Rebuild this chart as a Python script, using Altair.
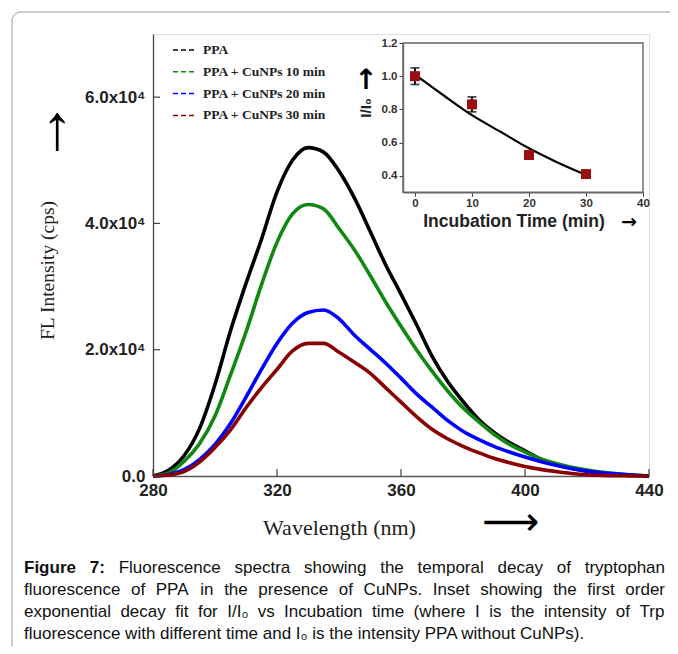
import altair as alt
import pandas as pd

# ---------------- data ----------------
wavelength = list(range(280, 445, 5))
ppa = [0, 900, 3200, 7500, 14500, 23000, 30500, 37500, 45000, 50000, 52000, 51300,
       48300, 44000, 38800, 33500, 28800, 24000, 19000, 15000, 11800, 9000, 6900,
       5300, 4000, 2700, 1800, 1200, 750, 450, 250, 120, 0]
cunps_10 = [0, 500, 2300, 5100, 9500, 16000, 22800, 30300, 37000, 41500, 43000, 42300,
            39200, 35800, 31800, 27600, 23700, 20000, 16600, 13500, 10800, 8600, 6600,
            5000, 3800, 2700, 2000, 1400, 950, 600, 350, 150, 0]
cunps_20 = [0, 250, 1000, 2600, 5000, 8300, 12500, 16900, 21000, 24200, 25900, 26300,
            24900, 22300, 20100, 17900, 15500, 13000, 10900, 8800, 7100, 5800, 4700,
            3800, 3000, 2300, 1700, 1200, 800, 500, 300, 120, 0]
cunps_30 = [0, 150, 700, 2200, 4500, 7300, 10800, 14000, 16900, 19800, 21000, 21000,
            19600, 18000, 16300, 14000, 11700, 9400, 7400, 5900, 4700, 3700, 2800,
            2100, 1500, 1050, 700, 400, 200, 100, 50, 0, 0]
series_names = ["PPA", "PPA + CuNPs 10 min", "PPA + CuNPs 20 min", "PPA + CuNPs 30 min"]
series_colors = ["#000000", "#118811", "#0000ff", "#8b0000"]

x_ticks = [280, 320, 360, 400, 440]
y_ticks = [0, 20000, 40000, 60000]

inset_time = [0, 10, 20, 30]
inset_ratio = [1.0, 0.83, 0.525, 0.41]
inset_err = [0.05, 0.045, 0.025, 0.012]
fit_time = [0, 5, 10, 15, 20, 25, 30]
fit_ratio = [1.01, 0.885, 0.765, 0.665, 0.565, 0.48, 0.405]
inset_x_ticks = [0, 10, 20, 30, 40]
inset_y_ticks = [0.4, 0.6, 0.8, 1.0, 1.2]

caption_bold = "Figure 7:"
caption_justified = [
    "Figure 7: Fluorescence spectra showing the temporal decay of tryptophan",
    "fluorescence of PPA in the presence of CuNPs. Inset showing the first order",
    "exponential decay fit for I/I\u2080 vs Incubation time (where I is the intensity of Trp",
]
caption_last = "fluorescence with different time and I\u2080 is the intensity PPA without CuNPs)."

# ---------------- tables ----------------
rows = []
for name, vals in zip(series_names, [ppa, cunps_10, cunps_20, cunps_30]):
    for w, v in zip(wavelength, vals):
        rows.append({"wl": w, "fl": v, "series": name})
spectra = pd.DataFrame(rows)

inset_df = pd.DataFrame({
    "t": inset_time,
    "r": inset_ratio,
    "lo": [r - e for r, e in zip(inset_ratio, inset_err)],
    "hi": [r + e for r, e in zip(inset_ratio, inset_err)],
})
fit_df = pd.DataFrame({"t": fit_time, "r": fit_ratio})
xt_df = pd.DataFrame({"v": x_ticks})
yt_df = pd.DataFrame({"v": y_ticks})
one = pd.DataFrame({"a": [0]})

W, H = 496, 442
SANS = "Liberation Sans"
SERIF = "Liberation Serif"

# ---------------- main spectra ----------------
xs_main = alt.Scale(domain=[280, 440], nice=False, zero=False)
ys_main = alt.Scale(domain=[0, 70000], nice=False)

x_axis_main = alt.Axis(
    values=x_ticks, format="d", ticks=False, grid=False, labelFlush=False, labelOverlap=False,
    labelFont=SANS, labelFontWeight="bold", labelFontSize=17, labelColor="#222",
    labelPadding=6, domainColor="#555", domainWidth=1.3,
    title="Wavelength (nm)", titleFont=SERIF, titleFontWeight="normal", titleFontSize=22,
    titleColor="#222", titleX=186, titleY=51, titleBaseline="middle")
y_axis_main = alt.Axis(
    values=y_ticks, ticks=False, grid=False, labelFlush=False, labelOverlap=False,
    labelExpr="datum.value == 0 ? '0.0' : format(datum.value / 10000, '.1f') + 'x10\u2074'",
    labelFont=SANS, labelFontWeight="bold", labelFontSize=17, labelColor="#222",
    labelPadding=8, domainColor="#444", domainWidth=1.3,
    title="FL Intensity (cps)", titleFont=SERIF, titleFontWeight="normal", titleFontSize=19.5,
    titleColor="#222", titleAngle=-90, titleX=-106, titleY=236, titleBaseline="middle")

lines = alt.Chart(spectra).mark_line(strokeWidth=3.6, interpolate="monotone").encode(
    x=alt.X("wl:Q", scale=xs_main, axis=x_axis_main),
    y=alt.Y("fl:Q", scale=ys_main, axis=y_axis_main),
    color=alt.Color("series:N", scale=alt.Scale(domain=series_names, range=series_colors),
                    sort=series_names,
                    legend=alt.Legend(
                        title=None, orient="none", legendX=19, legendY=4, padding=0,
                        symbolType="stroke", symbolStrokeWidth=1.5, symbolDash=[5, 3],
                        symbolSize=484, rowPadding=2.8, labelOffset=7,
                        labelFont=SERIF, labelFontWeight="bold", labelFontSize=13.5,
                        labelColor="#222")),
)

y_tick_marks = alt.Chart(yt_df).mark_rule(color="#444", strokeWidth=1.2).encode(
    y=alt.Y("v:Q", scale=ys_main, axis=y_axis_main), x=alt.value(0), x2=alt.value(7))
x_tick_marks = alt.Chart(xt_df).mark_rule(color="#444", strokeWidth=1.2).encode(
    x=alt.X("v:Q", scale=xs_main, axis=x_axis_main), y=alt.value(H - 7), y2=alt.value(H))

main_group = alt.layer(lines, y_tick_marks, x_tick_marks)

# ---------------- inset ----------------
xs_in = alt.Scale(domain=[-2.1, 40], range=[250, 490], nice=False, zero=False)
ys_in = alt.Scale(domain=[0.3, 1.2], range=[158.3, 9], nice=False, zero=False)

x_axis_in = alt.Axis(
    orient="bottom", offset=-(H - 158.3), values=inset_x_ticks, format="d", grid=False,
    labelFlush=False, labelOverlap=False, tickSize=4, tickColor="#444", domainColor="#666",
    domainWidth=1.4, labelFont=SANS, labelFontWeight="bold", labelFontSize=11.5,
    labelColor="#333", labelPadding=1, title=None, zindex=2)
y_axis_in = alt.Axis(
    orient="left", offset=-250, values=inset_y_ticks, format=".1f", grid=False,
    labelFlush=False, labelOverlap=False, tickSize=4, tickColor="#444", domainColor="#666",
    domainWidth=1.4, labelFont=SANS, labelFontWeight="bold", labelFontSize=11.5,
    labelColor="#333", labelPadding=2, title=None, zindex=2)

frame = alt.Chart(one).mark_rect(fill="white", stroke="#666", strokeWidth=1.4).encode(
    x=alt.X(datum=-2.1, type="quantitative", scale=xs_in, axis=x_axis_in),
    x2=alt.X2(datum=40),
    y=alt.Y(datum=0.3, type="quantitative", scale=ys_in, axis=y_axis_in),
    y2=alt.Y2(datum=1.2),
)
fit = alt.Chart(fit_df).mark_line(color="black", strokeWidth=2.2, interpolate="monotone").encode(
    x=alt.X("t:Q", scale=xs_in, axis=x_axis_in),
    y=alt.Y("r:Q", scale=ys_in, axis=y_axis_in),
)
bars = alt.Chart(inset_df).mark_rule(color="black", strokeWidth=1.8).encode(
    x=alt.X("t:Q", scale=xs_in, axis=x_axis_in),
    y=alt.Y("lo:Q", scale=ys_in, axis=y_axis_in),
    y2="hi:Q",
)
caps = alt.Chart(inset_df).transform_fold(["lo", "hi"], as_=["k", "v"]).mark_tick(
    color="black", thickness=1.8, size=9, orient="horizontal").encode(
    x=alt.X("t:Q", scale=xs_in, axis=x_axis_in),
    y=alt.Y("v:Q", scale=ys_in, axis=y_axis_in),
)
points = alt.Chart(inset_df).mark_square(size=100, color="#9a1010", opacity=1).encode(
    x=alt.X("t:Q", scale=xs_in, axis=x_axis_in),
    y=alt.Y("r:Q", scale=ys_in, axis=y_axis_in),
)
inset_group = alt.layer(frame, fit, bars, caps, points)

# ---------------- annotations ----------------
def label(text, x, y, size, font=SANS, weight="normal", angle=0, align="center", color="#111"):
    return alt.Chart(one).mark_text(
        text=text, font=font, fontSize=size, fontWeight=weight, angle=angle,
        align=align, baseline="middle", color=color,
    ).encode(x=alt.value(x), y=alt.value(y))

card = alt.Chart(one).mark_rect(
    fillOpacity=0, stroke="#9a9a9a", strokeWidth=1, cornerRadius=9
).encode(x=alt.value(-141), x2=alt.value(700), y=alt.value(-22), y2=alt.value(720))

annotations = [
    label("\u2191", -96, 96, 64, color="#000"),
    label("\u27f6", 358, 489, 40, font="DejaVu Sans", color="#000"),
    label("\u2191", 213, 47, 28, font="DejaVu Sans", weight="bold", color="#000"),
    label("I/I\u2080", 213, 74, 15, weight="bold", angle=270, color="#222"),
    label("Incubation Time (min)", 361, 188, 17.5, weight="bold", color="#222"),
    label("\u2192", 476, 188, 19, font="DejaVu Sans", weight="bold", color="#000"),
]

# caption: justified lines laid out word by word (Arial / Liberation Sans metrics)
REG = {c: w for c, w in zip("abcdefghijklmnopqrstuvwxyz",
       [556, 556, 500, 556, 556, 278, 556, 556, 222, 222, 500, 222, 833,
        556, 556, 556, 556, 333, 500, 278, 556, 500, 722, 500, 500, 500])}
REG.update({c: w for c, w in zip("ABCDEFGHIJKLMNOPQRSTUVWXYZ",
       [667, 667, 722, 722, 667, 611, 778, 722, 278, 500, 667, 556, 833,
        722, 778, 667, 778, 722, 667, 611, 722, 667, 944, 667, 667, 611])})
REG.update({" ": 278, ".": 278, ",": 278, ":": 278, "(": 333, ")": 333, "/": 278,
            "-": 333, "\u2080": 400})
BOLD = {"F": 611, "i": 278, "g": 611, "u": 611, "r": 389, "e": 556, "7": 556, ":": 333}
CAP_FS = 17
CAP_LEFT, CAP_RIGHT = -129, 512


def word_width(word, bold):
    table = BOLD if bold else REG
    return sum(table.get(ch, REG.get(ch, 556)) for ch in word) * CAP_FS / 1000.0


n_bold = len(caption_bold.split())
for i, line in enumerate(caption_justified):
    words = line.split()
    is_bold = [i == 0 and k < n_bold for k in range(len(words))]
    widths = [word_width(w, b) for w, b in zip(words, is_bold)]
    gap = (CAP_RIGHT - CAP_LEFT - sum(widths)) / (len(words) - 1)
    xpos = CAP_LEFT
    for w, b, wd in zip(words, is_bold, widths):
        annotations.append(label(w, xpos, 534 + 22 * i, CAP_FS,
                                 weight="bold" if b else "normal", align="left"))
        xpos += wd + gap
annotations.append(label(caption_last, CAP_LEFT, 534 + 22 * 3, CAP_FS, align="left"))

chart = alt.layer(card, main_group, inset_group, *annotations).resolve_scale(
    x="independent", y="independent"
).properties(
    width=W, height=H,
    autosize=alt.AutoSizeParams(type="none"),
    padding={"left": 145, "top": 26, "right": 21, "bottom": 170},
).configure_view(stroke="#666", strokeWidth=1.4).configure(background="white")

chart.save("out.html", embed_options={"renderer": "svg", "actions": False})
